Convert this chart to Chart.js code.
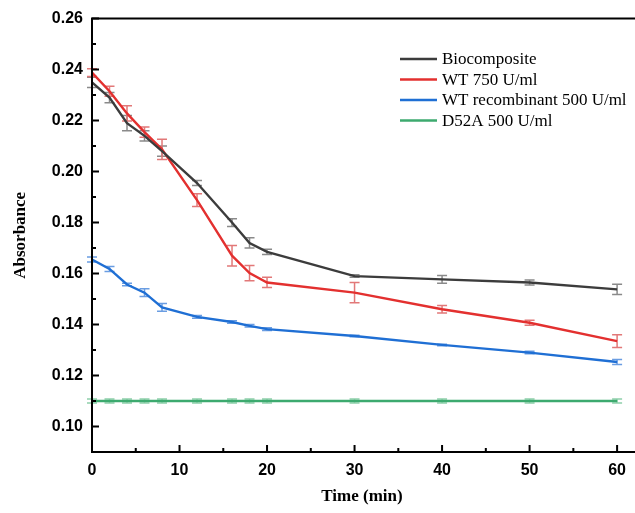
<!DOCTYPE html>
<html><head><meta charset="utf-8">
<script src="https://cdn.jsdelivr.net/npm/chart.js@4/dist/chart.umd.min.js"></script>
<style>html,body{margin:0;padding:0;background:#fff;overflow:hidden}#wrap{width:635px;height:513px;position:relative}</style>
</head><body><div id="wrap"><canvas id="c" width="635" height="513"></canvas></div>
<script>
const timeMin = [0, 2, 4, 6, 8, 12, 16, 18, 20, 30, 40, 50, 60];
const seriesNames = ['Biocomposite', 'WT 750 U/ml', 'WT recombinant 500 U/ml', 'D52A 500 U/ml'];
const biocomposite    = [0.2350, 0.2290, 0.2190, 0.2140, 0.2080, 0.1955, 0.1800, 0.1720, 0.1685, 0.1590, 0.1577, 0.1565, 0.1538];
const biocompositeErr = [0.0020, 0.0020, 0.0030, 0.0020, 0.0020, 0.0010, 0.0015, 0.0020, 0.0010, 0.0005, 0.0015, 0.0010, 0.0020];
const wt750           = [0.2388, 0.2315, 0.2228, 0.2155, 0.2087, 0.1888, 0.1670, 0.1602, 0.1565, 0.1525, 0.1460, 0.1407, 0.1335];
const wt750Err        = [0.0015, 0.0020, 0.0030, 0.0020, 0.0040, 0.0025, 0.0040, 0.0030, 0.0020, 0.0040, 0.0015, 0.0010, 0.0025];
const wtRec500        = [0.1655, 0.1618, 0.1557, 0.1525, 0.1467, 0.1430, 0.1410, 0.1395, 0.1382, 0.1355, 0.1320, 0.1290, 0.1253];
const wtRec500Err     = [0.0010, 0.0010, 0.0005, 0.0015, 0.0015, 0.0005, 0.0005, 0.0005, 0.0005, 0.0003, 0.0003, 0.0005, 0.0010];
const d52a            = [0.110, 0.110, 0.110, 0.110, 0.110, 0.110, 0.110, 0.110, 0.110, 0.110, 0.110, 0.110, 0.110];
const d52aErr         = [0.0008, 0.0008, 0.0008, 0.0008, 0.0008, 0.0008, 0.0008, 0.0008, 0.0008, 0.0008, 0.0008, 0.0008, 0.0008];
const yMajorTicks = [0.10, 0.12, 0.14, 0.16, 0.18, 0.20, 0.22, 0.24, 0.26];
const yMinorTicks = [0.11, 0.13, 0.15, 0.17, 0.19, 0.21, 0.23, 0.25];
const xMajorTicks = [0, 10, 20, 30, 40, 50, 60];
const xMinorTicks = [5, 15, 25, 35, 45, 55];

const lineColors = ['#3c3c3c', '#e3302f', '#1f6fd4', '#3daa6f'];
const barColors  = ['#8a8a8a', '#e27878', '#6a9de2', '#8fd0ab'];

function mk(label, vals, errs, i) {
  return {
    label: label,
    data: timeMin.map((t, k) => ({x: t, y: vals[k]})),
    errors: errs,
    borderColor: lineColors[i],
    backgroundColor: lineColors[i],
    errColor: barColors[i],
    borderWidth: 2.4,
    pointRadius: 0,
    tension: 0,
    clip: false
  };
}

const errorBars = {
  id: 'errorBars',
  beforeDatasetsDraw(chart) {
    const ctx = chart.ctx, xs = chart.scales.x, ys = chart.scales.y;
    ctx.save();
    chart.data.datasets.forEach(ds => {
      ctx.strokeStyle = ds.errColor;
      ctx.lineWidth = 1.5;
      ds.data.forEach((p, k) => {
        const e = ds.errors[k];
        const x = xs.getPixelForValue(p.x);
        const y1 = ys.getPixelForValue(p.y + e);
        const y2 = ys.getPixelForValue(p.y - e);
        ctx.beginPath();
        ctx.moveTo(x, y1); ctx.lineTo(x, y2);
        ctx.moveTo(x - 5, y1); ctx.lineTo(x + 5, y1);
        ctx.moveTo(x - 5, y2); ctx.lineTo(x + 5, y2);
        ctx.stroke();
      });
    });
    ctx.restore();
  }
};

const frame = {
  id: 'frame',
  afterDraw(chart) {
    const ctx = chart.ctx, a = chart.chartArea, xs = chart.scales.x, ys = chart.scales.y;
    ctx.save();
    ctx.strokeStyle = '#000';
    ctx.lineWidth = 2;
    ctx.beginPath();
    ctx.moveTo(chart.width, a.top); ctx.lineTo(a.left, a.top);
    ctx.lineTo(a.left, a.bottom); ctx.lineTo(chart.width, a.bottom);
    ctx.stroke();
    ctx.beginPath();
    yMajorTicks.forEach(v => { const y = ys.getPixelForValue(v); ctx.moveTo(a.left, y); ctx.lineTo(a.left + 7, y); });
    yMinorTicks.forEach(v => { const y = ys.getPixelForValue(v); ctx.moveTo(a.left, y); ctx.lineTo(a.left + 4, y); });
    xMajorTicks.forEach(v => { const x = xs.getPixelForValue(v); ctx.moveTo(x, a.bottom); ctx.lineTo(x, a.bottom - 7); });
    xMinorTicks.forEach(v => { const x = xs.getPixelForValue(v); ctx.moveTo(x, a.bottom); ctx.lineTo(x, a.bottom - 4); });
    ctx.stroke();
    ctx.restore();
  }
};

const insideLegend = {
  id: 'insideLegend',
  afterDraw(chart, args, o) {
    const ctx = chart.ctx;
    ctx.save();
    ctx.font = '17px "Liberation Serif", "Times New Roman", serif';
    ctx.textBaseline = 'middle';
    ctx.fillStyle = '#000';
    chart.data.datasets.forEach((ds, i) => {
      const y = o.y + i * o.rowH;
      ctx.strokeStyle = ds.borderColor;
      ctx.lineWidth = 2.4;
      ctx.beginPath(); ctx.moveTo(o.x, y); ctx.lineTo(o.x + o.len, y); ctx.stroke();
      ctx.fillText(ds.label, o.x + o.len + 5, y + 1);
    });
    ctx.restore();
  }
};

const tickFont = {family: '"Liberation Sans", Arial, sans-serif', size: 16, weight: 'bold'};
const titleFont = {family: '"Liberation Serif", "Times New Roman", serif', size: 17, weight: 'bold'};

new Chart(document.getElementById('c'), {
  type: 'line',
  data: {
    datasets: [
      mk(seriesNames[0], biocomposite, biocompositeErr, 0),
      mk(seriesNames[1], wt750, wt750Err, 1),
      mk(seriesNames[2], wtRec500, wtRec500Err, 2),
      mk(seriesNames[3], d52a, d52aErr, 3)
    ]
  },
  plugins: [errorBars, frame, insideLegend],
  options: {
    responsive: false,
    animation: false,
    events: [],
    layout: {padding: {top: 18, right: 0, left: 0, bottom: 0}},
    plugins: {
      legend: {display: false},
      tooltip: {enabled: false},
      insideLegend: {x: 400, y: 59, rowH: 20.5, len: 37}
    },
    scales: {
      x: {
        type: 'linear', min: 0, max: 61.7,
        afterBuildTicks: s => { s.ticks = xMajorTicks.map(v => ({value: v})); },
        afterFit: s => { s.height = 61; },
        grid: {display: false, drawTicks: false},
        border: {display: false},
        ticks: {font: tickFont, color: '#000', padding: 9, maxRotation: 0, autoSkip: false},
        title: {display: true, text: 'Time (min)', font: titleFont, color: '#000', padding: {top: 0, bottom: 6}}
      },
      y: {
        min: 0.09, max: 0.26,
        afterBuildTicks: s => { s.ticks = yMajorTicks.map(v => ({value: v})); },
        afterFit: s => { s.width = 92; },
        grid: {display: false, drawTicks: false},
        border: {display: false},
        ticks: {font: tickFont, color: '#000', padding: 9, autoSkip: false, callback: v => Number(v).toFixed(2)},
        title: {display: true, text: 'Absorbance', font: titleFont, color: '#000', padding: {top: 10, bottom: 0}}
      }
    }
  }
});
</script>
</body></html>
